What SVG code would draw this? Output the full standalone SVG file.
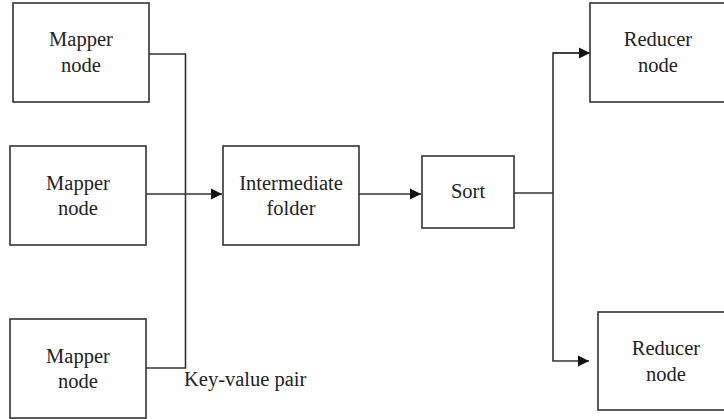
<svg xmlns="http://www.w3.org/2000/svg" width="724" height="419" viewBox="0 0 724 419">
<style>
.box{fill:#fff;stroke:#333;stroke-width:1.6}
.ln{fill:none;stroke:#333;stroke-width:1.6}
.t{font-family:'Liberation Serif','Times New Roman',serif;font-size:20.5px;fill:#222;text-anchor:middle}
.lab{text-anchor:start}
</style>
<defs>
<marker id="ah" markerUnits="userSpaceOnUse" markerWidth="12" markerHeight="12" refX="11" refY="6" orient="auto">
<path d="M0,0.5 L11,6 L0,11.5 Z" fill="#111"/>
</marker>
</defs>
<g id="connectors">
<path class="ln" d="M149,54 H185.5 V368 H146"/>
<path class="ln" d="M146,194 H222" marker-end="url(#ah)"/>
<path class="ln" d="M359,194 H421" marker-end="url(#ah)"/>
<path class="ln" d="M514,193 H553"/>
<path class="ln" d="M590,53 H553 V361 H589" marker-end="url(#ah)"/>
<path class="ln" d="M553,53 H590" marker-end="url(#ah)"/>
<text class="t lab" x="184" y="386">Key-value pair</text>
</g>
<g id="mapper1"><rect class="box" x="13" y="3" width="136" height="99"/><text class="t" x="81" y="46">Mapper</text><text class="t" x="81" y="72">node</text></g>
<g id="mapper2"><rect class="box" x="10" y="146" width="136" height="99"/><text class="t" x="78" y="190">Mapper</text><text class="t" x="78" y="215">node</text></g>
<g id="mapper3"><rect class="box" x="10" y="319" width="136" height="99"/><text class="t" x="78" y="363">Mapper</text><text class="t" x="78" y="388">node</text></g>
<g id="intermediate"><rect class="box" x="223" y="146" width="136" height="99"/><text class="t" x="291" y="190">Intermediate</text><text class="t" x="291" y="215">folder</text></g>
<g id="sort"><rect class="box" x="422" y="156" width="92" height="72"/><text class="t" x="468" y="198">Sort</text></g>
<g id="reducer1"><rect class="box" x="590" y="3" width="136" height="99"/><text class="t" x="658" y="46">Reducer</text><text class="t" x="658" y="72">node</text></g>
<g id="reducer2"><rect class="box" x="598" y="312" width="136" height="98"/><text class="t" x="666" y="355">Reducer</text><text class="t" x="666" y="381">node</text></g>
</svg>
